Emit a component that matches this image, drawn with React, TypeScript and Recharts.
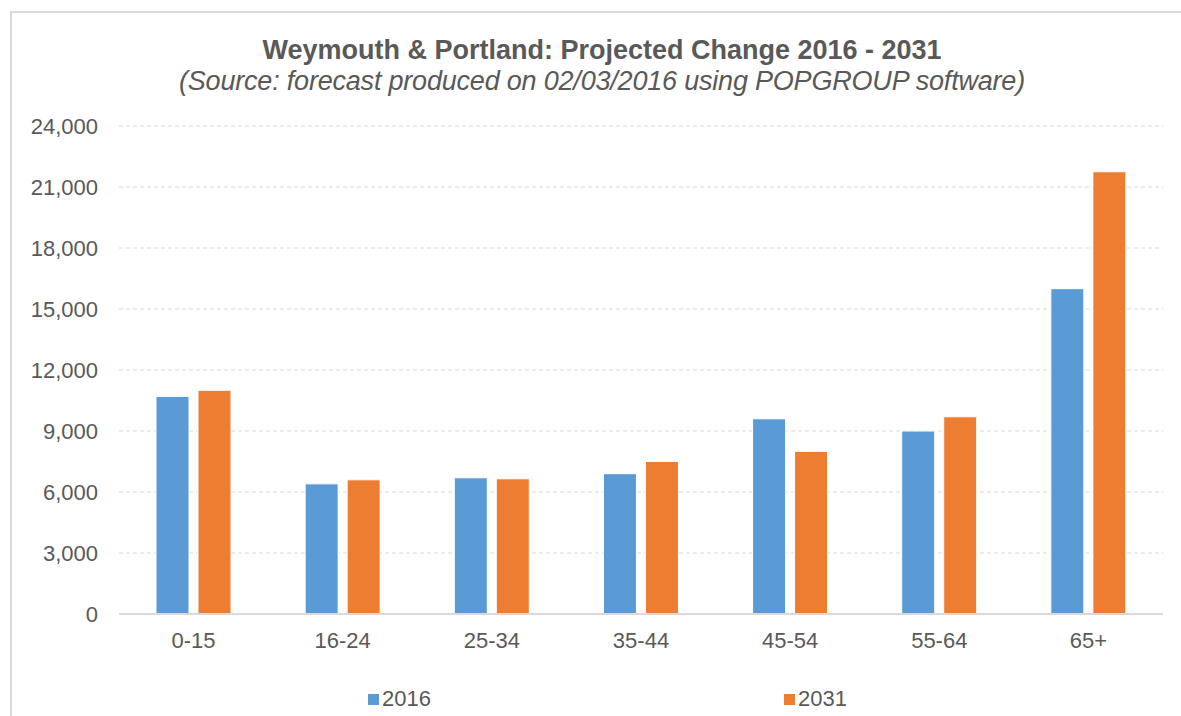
import React from 'react';
import { BarChart, Bar, XAxis, YAxis, CartesianGrid } from 'recharts';

// age bands and projected population
const ageBands = ['0-15', '16-24', '25-34', '35-44', '45-54', '55-64', '65+'];
const pop2016 = [10700, 6400, 6700, 6900, 9600, 9000, 16000];
const pop2031 = [11000, 6600, 6650, 7500, 8000, 9700, 21750];
const yTicks = [0, 3000, 6000, 9000, 12000, 15000, 18000, 21000, 24000];
const seriesNames = ['2016', '2031'];
const seriesColors = ['#5b9bd5', '#ed7d31'];

const chartData = ageBands.map((band, i) => ({
    band,
    y2016: pop2016[i],
    y2031: pop2031[i],
}));

const textColor = '#595959';
const font = 'Arial, "Liberation Sans", sans-serif';

export default function App() {
    return (
        <div style={{ position: 'absolute', left: 0, top: 0, width: 1181, height: 716, background: '#fff', overflow: 'hidden', fontFamily: font }}>
            {/* chart frame */}
            <div style={{ position: 'absolute', left: 10, top: 11, width: 1200, height: 800, borderLeft: '2px solid #d9d9d9', borderTop: '2px solid #d9d9d9' }} />

            <div style={{ position: 'absolute', left: 0, width: 1204, top: 34, textAlign: 'center', color: textColor, fontSize: 27, fontWeight: 'bold', lineHeight: '32px' }}>
                Weymouth &amp; Portland: Projected Change 2016 - 2031
            </div>
            <div style={{ position: 'absolute', left: 0, width: 1204, top: 65, textAlign: 'center', color: textColor, fontSize: 27, fontStyle: 'italic', lineHeight: '32px', letterSpacing: -0.2 }}>
                (Source: forecast produced on 02/03/2016 using POPGROUP software)
            </div>

            <div style={{ position: 'absolute', left: 0, top: 0 }}>
                <BarChart
                    width={1181}
                    height={716}
                    data={chartData}
                    margin={{ top: 126, right: 18, bottom: 72, left: 0 }}
                    barSize={33}
                    barGap={9}
                >
                    <CartesianGrid vertical={false} stroke="#d9d9d9" strokeDasharray="4 3" />
                    <XAxis
                        dataKey="band"
                        height={30}
                        tickLine={false}
                        axisLine={{ stroke: '#d9d9d9', strokeWidth: 2 }}
                        tick={{ fill: textColor, fontSize: 22, fontFamily: font }}
                        tickMargin={12}
                    />
                    <YAxis
                        width={119}
                        domain={[0, 24000]}
                        ticks={yTicks}
                        tickLine={false}
                        axisLine={false}
                        tickMargin={15}
                        tick={{ fill: textColor, fontSize: 22, fontFamily: font }}
                        tickFormatter={(v: number) => v.toLocaleString('en-US')}
                    />
                    <Bar dataKey="y2016" name={seriesNames[0]} fill={seriesColors[0]} stroke="#fff" strokeWidth={1} isAnimationActive={false} />
                    <Bar dataKey="y2031" name={seriesNames[1]} fill={seriesColors[1]} stroke="#fff" strokeWidth={1} isAnimationActive={false} />
                </BarChart>
            </div>

            {/* legend */}
            {seriesNames.map((name, i) => (
                <div key={name} style={{ position: 'absolute', left: i === 0 ? 368 : 784, top: 686, display: 'flex', alignItems: 'center', color: textColor, fontSize: 22, lineHeight: '26px' }}>
                    <span style={{ display: 'inline-block', width: 11, height: 11, background: seriesColors[i], marginRight: 3 }} />
                    {name}
                </div>
            ))}
        </div>
    );
}
